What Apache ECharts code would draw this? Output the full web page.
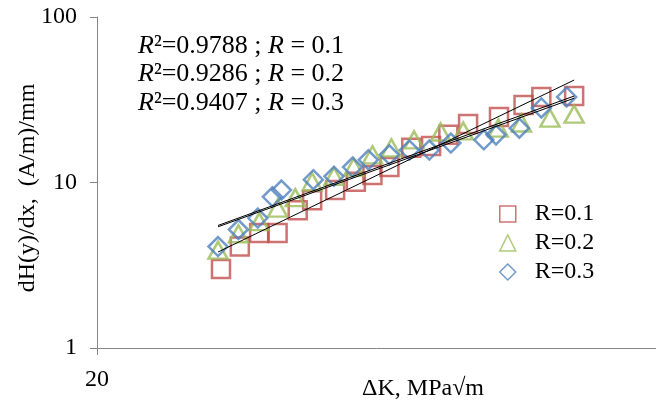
<!DOCTYPE html>
<html>
<head>
<meta charset="utf-8">
<script src="https://cdn.jsdelivr.net/npm/echarts@6/dist/echarts.min.js"></script>
<style>
html,body{margin:0;padding:0;background:#fff;}
#chart{width:656px;height:402px;}
</style>
</head>
<body>
<div id="chart"></div>
<script>
// ---- data ----
const seriesNames = ['R=0.1', 'R=0.2', 'R=0.3'];
const dK_R01 = [27.2, 28.5, 29.9, 31.3, 32.9, 34.1, 36.1, 38.0, 39.6, 41.3, 43.6, 45.8, 47.8, 50.2, 54.2, 57.6, 60.2, 65.3];
const dH_R01 = [3.0, 4.1, 4.95, 4.95, 6.8, 7.8, 9.0, 10.1, 11.1, 12.4, 16.2, 16.6, 19.4, 22.6, 24.9, 29.4, 32.9, 33.3];
const dK_R02 = [27.0, 28.4, 29.9, 31.3, 32.7, 34.1, 36.0, 37.8, 39.6, 41.5, 43.9, 46.9, 49.6, 54.1, 57.3, 61.5, 65.3];
const dH_R02 = [3.9, 4.9, 5.8, 7.0, 8.1, 10.1, 10.9, 12.4, 14.7, 16.2, 18.1, 20.2, 20.5, 21.3, 22.9, 24.5, 25.9];
const dK_R03 = [27.0, 28.4, 29.8, 30.9, 31.6, 34.2, 36.0, 37.7, 39.2, 41.3, 43.4, 45.6, 48.1, 52.2, 53.8, 57.0, 60.2, 64.1];
const dH_R03 = [4.1, 5.2, 6.1, 8.2, 9.0, 10.4, 10.9, 12.4, 13.7, 14.7, 15.7, 15.7, 17.3, 18.1, 19.4, 21.3, 28.2, 32.9];
// power-law trend lines (straight on log-log axes): end points
const trendX = [27.0, 65.3];
const trend_R01 = [3.8, 41.6];
const trend_R02 = [5.4, 32.3];
const trend_R03 = [5.5, 33.3];
const fitLabels = [
  ['0.9788', '0.1'],
  ['0.9286', '0.2'],
  ['0.9407', '0.3']
];
const xTickLabels = [20];
const yTitle = 'dH(y)/dx,  (A/m)/mm';
const xTitle = 'ΔK, MPa√m';

// ---- build ----
const FONT = "'Liberation Serif', 'Times New Roman', serif";
const colors = ['#C0504D', '#9BBB59', '#4F81BD'];
const zip = (a, b) => a.map((v, i) => [v, b[i]]);

function scatter(name, xs, ys, color, symbol, size) {
  return {
    name, type: 'scatter', data: zip(xs, ys), symbol, symbolSize: size,
    itemStyle: { color: 'rgba(0,0,0,0)', borderColor: color, borderWidth: 2.5 },
    emphasis: { disabled: true }, z: 2
  };
}
function trend(xs, ys) {
  return {
    type: 'line', data: zip(xs, ys), symbol: 'none', silent: true,
    lineStyle: { color: '#000', width: 1 }, z: 3
  };
}

const fitGraphics = fitLabels.map((f, i) => ({
  type: 'text', x: 138, y: 46 + i * 28.5,
  style: {
    text: '{i|R}²=' + f[0] + ' ; {i|R} = ' + f[1],
    font: '26px ' + FONT, fill: '#000', verticalAlign: 'middle',
    rich: { i: { fontStyle: 'italic', fontSize: 26, fontFamily: FONT, fill: '#000' } }
  }
}));

const chart = echarts.init(document.getElementById('chart'), null, { renderer: 'canvas' });
chart.setOption({
  animation: false,
  grid: { left: 97, right: 0, top: 17, bottom: 54, containLabel: false },
  xAxis: {
    type: 'log', logBase: 10, min: 20, max: 80,
    axisLine: { show: true, lineStyle: { color: '#868686', width: 1 } },
    axisTick: { show: true, length: 7, customValues: xTickLabels, lineStyle: { color: '#868686' } },
    axisLabel: { customValues: xTickLabels, margin: 20, fontSize: 24, fontFamily: FONT, color: '#000' },
    splitLine: { show: false }
  },
  yAxis: {
    type: 'log', logBase: 10, min: 1, max: 100,
    axisLine: { show: true, lineStyle: { color: '#868686', width: 1 } },
    axisTick: { show: true, length: 7, lineStyle: { color: '#868686' } },
    axisLabel: { margin: 20, fontSize: 24, fontFamily: FONT, color: '#000' },
    splitLine: { show: false }
  },
  legend: {
    data: seriesNames, orient: 'vertical', left: 499, top: 202, padding: 0,
    itemWidth: 16, itemHeight: 16, itemGap: 5,
    itemStyle: { borderWidth: 1.5 },
    textStyle: { fontSize: 24, fontFamily: FONT, color: '#000', padding: [0, 0, 0, 14] }
  },
  graphic: [
    ...fitGraphics,
    { type: 'text', x: 423, y: 389, style: { text: xTitle, font: '24px ' + FONT, fill: '#000', align: 'center', verticalAlign: 'middle' } },
    { type: 'text', x: 28, y: 188, rotation: Math.PI / 2,
      style: { text: yTitle, font: '24px ' + FONT, fill: '#000', align: 'center', verticalAlign: 'middle' } }
  ],
  series: [
    scatter(seriesNames[0], dK_R01, dH_R01, colors[0], 'rect', 18),
    scatter(seriesNames[1], dK_R02, dH_R02, colors[1], 'triangle', [19, 17]),
    scatter(seriesNames[2], dK_R03, dH_R03, colors[2], 'diamond', 19),
    trend(trendX, trend_R01),
    trend(trendX, trend_R02),
    trend(trendX, trend_R03)
  ]
});
</script>
</body>
</html>
